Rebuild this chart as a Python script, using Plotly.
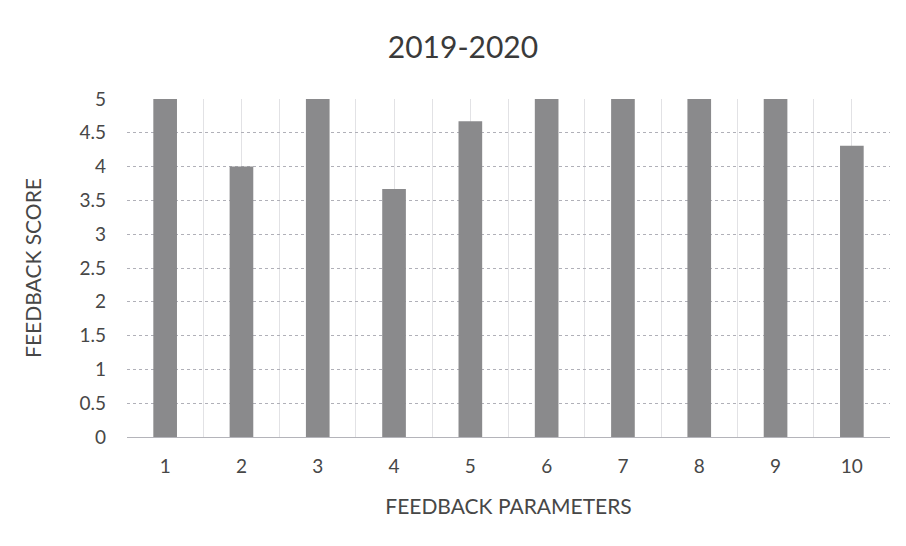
import plotly.graph_objects as go

categories = [1, 2, 3, 4, 5, 6, 7, 8, 9, 10]
scores = [5, 4, 5, 3.67, 4.67, 5, 5, 5, 5, 4.31]
y_ticks = [0, 0.5, 1, 1.5, 2, 2.5, 3, 3.5, 4, 4.5, 5]
title_text = "2019-2020"
x_title = "FEEDBACK PARAMETERS"
y_title = "FEEDBACK SCORE"

FONT = "Lato, 'Open Sans', sans-serif"
TXT = "#474747"

# page body adds an 8px offset; figure is sized so the page matches 906x546
W, H = 898, 538

fig = go.Figure()
fig.add_trace(go.Bar(
    x=categories, y=scores, width=0.31,
    marker=dict(color="#8a8a8c", line=dict(width=0)),
))

fig.update_layout(
    width=W, height=H,
    margin=dict(l=119, r=16, t=91, b=109, autoexpand=False),
    paper_bgcolor="white", plot_bgcolor="white",
    showlegend=False,
    font=dict(family=FONT, color=TXT, size=19),
    title=dict(text=title_text, x=(463 - 8) / W, xanchor="center",
               y=1 - (47 - 8) / H, yanchor="middle",
               font=dict(family=FONT, size=30, color="#3a3a3a")),
    xaxis=dict(
        range=[0.5, 10.5], tickvals=categories, ticktext=[str(c) for c in categories],
        showgrid=True, gridcolor="#e2e2e5", gridwidth=1,
        minor=dict(tickvals=[c - 0.5 for c in categories] + [10.5], showgrid=True,
                   gridcolor="#e2e2e5", gridwidth=1),
        showline=True, linecolor="#b4b4ba", linewidth=1,
        zeroline=False, ticks="", ticklabelstandoff=12,
        tickfont=dict(size=19, color=TXT),
        title=dict(text=x_title, font=dict(size=21, color=TXT), standoff=23),
    ),
    yaxis=dict(
        range=[0, 5], tickvals=y_ticks, ticktext=[f"{v:g}" for v in y_ticks],
        showgrid=True, gridcolor="#b0b0b8", gridwidth=1, griddash="dot",
        zeroline=False, showline=False, ticks="", ticklabelstandoff=20,
        tickfont=dict(size=19, color=TXT),
        title=dict(text=y_title, font=dict(size=21, color=TXT), standoff=32),
    ),
)

fig.write_html("out.html")
